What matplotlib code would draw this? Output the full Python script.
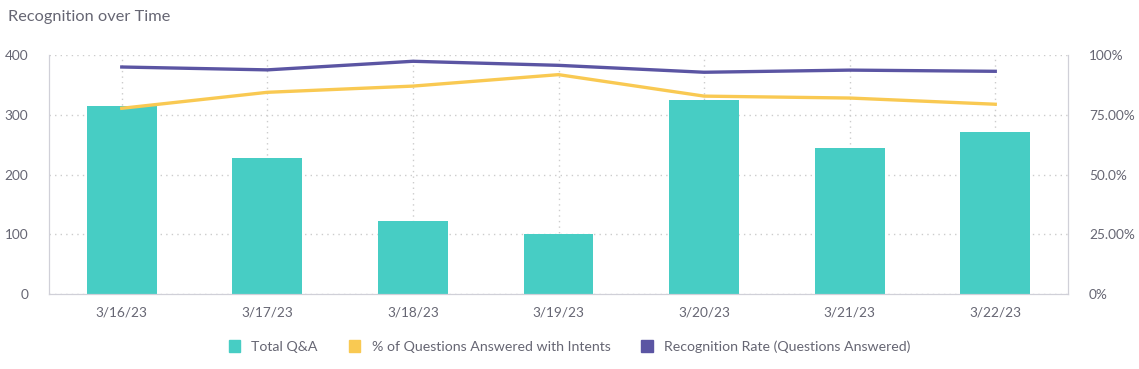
import matplotlib
matplotlib.use("Agg")
import matplotlib.pyplot as plt
from matplotlib.patches import Patch
import numpy as np

plt.rcParams['font.family'] = ['Lato', 'DejaVu Sans']

dates = ["3/16/23", "3/17/23", "3/18/23", "3/19/23", "3/20/23", "3/21/23", "3/22/23"]
total_qa = [315, 228, 122, 100, 325, 245, 271]
pct_intents = [77.8, 84.5, 87.1, 91.9, 82.9, 82.1, 79.5]
recognition_rate = [95.1, 93.9, 97.5, 95.8, 92.9, 93.8, 93.3]

left_ticks = [0, 100, 200, 300, 400]
right_ticks = [0, 25, 50, 75, 100]
right_labels = ["0%", "25.00%", "50.0%", "75.00%", "100%"]

teal = "#47CDC4"
yellow = "#F9C952"
purple = "#5B55A3"
text_col = "#666673"
grid_col = "#cccccc"

fig = plt.figure(figsize=(11.39, 3.69), dpi=100)
ax = fig.add_axes([0.043, 0.2033, 0.8947, 0.6468])
x = np.arange(len(dates))

ax.bar(x, total_qa, width=0.48, color=teal, zorder=2)
ax.set_xlim(-0.5, len(dates) - 0.5)
ax.set_ylim(0, 400)
ax.set_yticks(left_ticks)
ax.set_xticks(x)
ax.set_xticklabels(dates)
ax.tick_params(axis='both', length=0, colors=text_col, labelsize=9.8)
ax.tick_params(axis='y', pad=15)
ax.tick_params(axis='x', pad=9)
ax.grid(True, linestyle=(0, (1, 3)), color=grid_col, linewidth=1, zorder=0)
ax.set_axisbelow(True)
ax.spines['top'].set_visible(False)
for s in ['left', 'bottom', 'right']:
    ax.spines[s].set_color("#d0d0d8")

ax2 = ax.twinx()
ax2.plot(x, pct_intents, color=yellow, linewidth=2.4, zorder=3)
ax2.plot(x, recognition_rate, color=purple, linewidth=2.4, zorder=3)
ax2.set_ylim(0, 100)
ax2.set_yticks(right_ticks)
ax2.set_yticklabels(right_labels)
ax2.tick_params(axis='y', length=0, colors=text_col, labelsize=9.8, pad=15)
ax2.spines['top'].set_visible(False)
for s in ['left', 'bottom', 'right']:
    ax2.spines[s].set_color("#d0d0d8")

fig.text(0.007, 0.955, "Recognition over Time", fontsize=11.8, color=text_col, va='center')

handles = [Patch(color=teal), Patch(color=yellow), Patch(color=purple)]
labels = ["Total Q&A", "% of Questions Answered with Intents", "Recognition Rate (Questions Answered)"]
fig.legend(handles, labels, loc='center', bbox_to_anchor=(0.5, 0.06), ncol=3, frameon=False,
           handlelength=0.8, handleheight=0.9, columnspacing=2.2, handletextpad=0.8,
           labelcolor=text_col, fontsize=10.2)

fig.savefig("out.png", dpi=100)
